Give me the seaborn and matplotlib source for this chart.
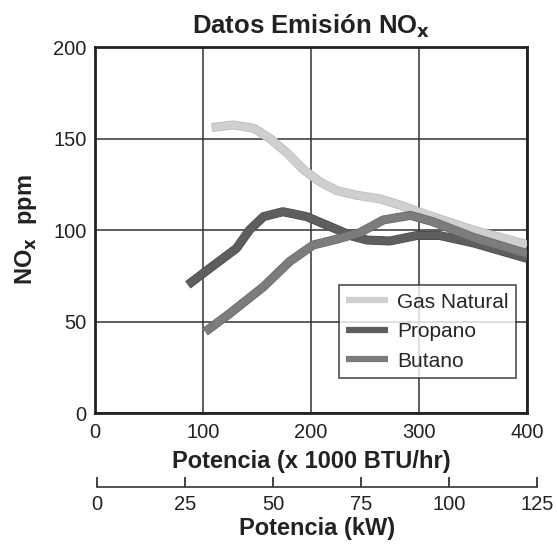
import matplotlib
matplotlib.use("Agg")
import matplotlib.pyplot as plt
import matplotlib.patheffects as pe
import seaborn as sns
import pandas as pd

# Data (x in 1000 BTU/hr, y in ppm)
gas_x = [108, 128, 147, 162, 178, 193, 208, 224, 242, 264, 282, 304, 350, 400]
gas_y = [156, 157.4, 155.6, 150, 142, 133, 126.4, 121.5, 119, 117, 113.7, 109, 100, 92]
prop_x = [86, 100, 131, 143, 156, 174, 196, 218, 239, 252, 273, 298, 319, 350, 400]
prop_y = [70, 76.3, 90, 100, 107.3, 110, 107.3, 101.8, 96.5, 94.5, 94, 97, 97, 93, 84.5]
but_x = [102, 125, 156, 180, 202, 224, 245, 267, 292, 313, 350, 400]
but_y = [44.4, 54.5, 69, 82.7, 91.8, 95, 98.5, 105.5, 108, 104.5, 96, 87]
series_names = ["Gas Natural", "Propano", "Butano"]
x_ticks = [0, 100, 200, 300, 400]
y_ticks = [0, 50, 100, 150, 200]
kw_ticks = [0, 25, 50, 75, 100, 125]

sns.set_style("white")
plt.rcParams['font.family'] = ['Liberation Sans', 'DejaVu Sans']

df = pd.concat([
    pd.DataFrame({"x": gas_x, "y": gas_y, "s": series_names[0]}),
    pd.DataFrame({"x": prop_x, "y": prop_y, "s": series_names[1]}),
    pd.DataFrame({"x": but_x, "y": but_y, "s": series_names[2]}),
])

colors = {"Gas Natural": "#cfcfcf", "Propano": "#5e5e5e", "Butano": "#7c7c7c"}
edges = {"Gas Natural": "#b8b8b8", "Propano": "#4a4a4a", "Butano": "#666666"}
TXT = "#222222"

fig = plt.figure(figsize=(5.57, 5.44), dpi=100)
ax = fig.add_axes([0.1706, 0.2408, 0.7756, 0.6728])

for name in series_names:
    sub = df[df["s"] == name]
    sns.lineplot(data=sub, x="x", y="y", ax=ax, color=colors[name], lw=5.5,
                 label=name, sort=False, estimator=None,
                 solid_capstyle="butt", solid_joinstyle="round",
                 path_effects=[pe.Stroke(linewidth=6.5, foreground=edges[name]), pe.Normal()],
                 zorder=3)

ax.set_xlim(0, 400)
ax.set_ylim(0, 200)
ax.set_xticks(x_ticks)
ax.set_yticks(y_ticks)
ax.grid(True, color="#333333", lw=1.1)
ax.set_axisbelow(True)
for sp in ax.spines.values():
    sp.set_linewidth(2)
    sp.set_color(TXT)
    sp.set_visible(True)
ax.tick_params(axis="both", length=0, labelsize=14.5, colors=TXT)
ax.tick_params(axis="x", pad=7)
ax.tick_params(axis="y", pad=6)
ax.set_xlabel("Potencia (x 1000 BTU/hr)", fontsize=17, fontweight="bold", color=TXT, labelpad=6)
ax.set_ylabel("NO$_\\mathbf{x}$  ppm", fontsize=17, fontweight="bold", color=TXT, labelpad=10)
ax.set_title("Datos Emisión NO$_\\mathbf{x}$", fontsize=18.5, fontweight="bold", color=TXT, pad=10)

leg = ax.legend(loc="lower right", bbox_to_anchor=(0.975, 0.096), fontsize=15, frameon=True,
                fancybox=False, edgecolor=TXT, handlelength=2.0, borderpad=0.35,
                labelspacing=0.5, handletextpad=0.45, borderaxespad=0)
leg.get_frame().set_linewidth(1.2)
for h in leg.get_lines():
    h.set_linewidth(4.5)
    h.set_path_effects([])

# secondary kW axis
ax2 = fig.add_axes([0.174, 0.1048, 0.79, 0.0001])
ax2.set_xlim(0, 125)
ax2.set_xticks(kw_ticks)
ax2.set_yticks([])
for k in ["top", "left", "right"]:
    ax2.spines[k].set_visible(False)
ax2.spines["bottom"].set_linewidth(1.2)
ax2.spines["bottom"].set_color("#333333")
ax2.patch.set_visible(False)
ax2.tick_params(axis="x", bottom=True, direction="in", length=7, width=1.2,
                labelsize=14.5, pad=6, colors=TXT)
ax2.set_xlabel("Potencia (kW)", fontsize=17, fontweight="bold", color=TXT, labelpad=2)

fig.savefig("out.png", dpi=100)
